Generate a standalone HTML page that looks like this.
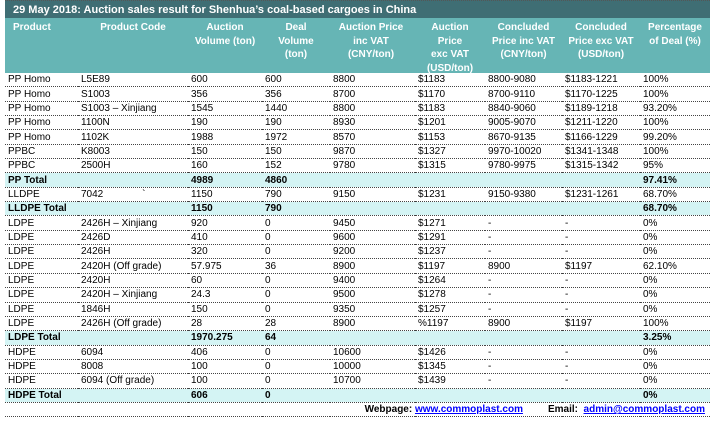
<!DOCTYPE html><html><head><style>
body{margin:0;background:#fff;width:715px;height:427px;overflow:hidden;font-family:"Liberation Sans",sans-serif;}
.t{position:absolute;left:5px;top:0;width:705px;height:18px;background:#3f6e74;color:#fff;font-weight:bold;font-size:11px;line-height:18px;padding-left:8px;box-sizing:border-box;border-top:1px dotted #555}
.h{position:absolute;left:5px;top:18px;width:705px;height:55px;background:#66b5b5;}
.hc{position:absolute;top:3px;color:#fff;font-weight:bold;font-size:10px;line-height:13.5px;text-align:center}
table{position:absolute;left:5px;top:73px;border-collapse:collapse;table-layout:fixed;width:705px;font-size:10px}
td{height:13.35px;padding:0 0 0 3px;border-bottom:1px dotted #444;white-space:nowrap;overflow:hidden;line-height:13px}
tr.s td{background:#d4f4f4;font-weight:bold}
tr.f td{border-bottom:1px dotted #444;font-weight:bold;text-align:right;padding-right:5px}
a{color:#00f;text-decoration:underline}
</style></head><body>
<div class="t">29 May 2018: Auction sales result for Shenhua’s coal-based cargoes in China</div>
<div class="h">
<div class="hc" style="left:8px;text-align:left">Product</div>
<div class="hc" style="left:73px;width:110px">Product Code</div>
<div class="hc" style="left:183px;width:74px">Auction<br>Volume (ton)</div>
<div class="hc" style="left:257px;width:68px">Deal<br>Volume<br>(ton)</div>
<div class="hc" style="left:322px;width:88px">Auction Price<br>inc VAT<br>(CNY/ton)</div>
<div class="hc" style="left:410px;width:70px">Auction<br>Price<br>exc VAT<br>(USD/ton)</div>
<div class="hc" style="left:480px;width:77px">Concluded<br>Price inc VAT<br>(CNY/ton)</div>
<div class="hc" style="left:557px;width:78px">Concluded<br>Price exc VAT<br>(USD/ton)</div>
<div class="hc" style="left:635px;width:70px">Percentage<br>of Deal (%)</div>
</div>
<table>
<colgroup><col style="width:73px"><col style="width:110px"><col style="width:74px"><col style="width:68px"><col style="width:85px"><col style="width:70px"><col style="width:77px"><col style="width:78px"><col style="width:70px"></colgroup>
<tr><td>PP Homo</td><td>L5E89</td><td>600</td><td>600</td><td>8800</td><td>$1183</td><td>8800-9080</td><td>$1183-1221</td><td>100%</td></tr>
<tr><td>PP Homo</td><td>S1003</td><td>356</td><td>356</td><td>8700</td><td>$1170</td><td>8700-9110</td><td>$1170-1225</td><td>100%</td></tr>
<tr><td>PP Homo</td><td>S1003 – Xinjiang</td><td>1545</td><td>1440</td><td>8800</td><td>$1183</td><td>8840-9060</td><td>$1189-1218</td><td>93.20%</td></tr>
<tr><td>PP Homo</td><td>1100N</td><td>190</td><td>190</td><td>8930</td><td>$1201</td><td>9005-9070</td><td>$1211-1220</td><td>100%</td></tr>
<tr><td>PP Homo</td><td>1102K</td><td>1988</td><td>1972</td><td>8570</td><td>$1153</td><td>8670-9135</td><td>$1166-1229</td><td>99.20%</td></tr>
<tr><td>PPBC</td><td>K8003</td><td>150</td><td>150</td><td>9870</td><td>$1327</td><td>9970-10020</td><td>$1341-1348</td><td>100%</td></tr>
<tr><td>PPBC</td><td>2500H</td><td>160</td><td>152</td><td>9780</td><td>$1315</td><td>9780-9975</td><td>$1315-1342</td><td>95%</td></tr>
<tr class="s"><td colspan="2">PP Total</td><td>4989</td><td>4860</td><td></td><td></td><td></td><td></td><td>97.41%</td></tr>
<tr><td>LLDPE</td><td>7042 &nbsp; &nbsp; &nbsp; &nbsp; &nbsp; &nbsp; &nbsp;`</td><td>1150</td><td>790</td><td>9150</td><td>$1231</td><td>9150-9380</td><td>$1231-1261</td><td>68.70%</td></tr>
<tr class="s"><td colspan="2">LLDPE Total</td><td>1150</td><td>790</td><td></td><td></td><td></td><td></td><td>68.70%</td></tr>
<tr><td>LDPE</td><td>2426H – Xinjiang</td><td>920</td><td>0</td><td>9450</td><td>$1271</td><td>-</td><td>-</td><td>0%</td></tr>
<tr><td>LDPE</td><td>2426D</td><td>410</td><td>0</td><td>9600</td><td>$1291</td><td>-</td><td>-</td><td>0%</td></tr>
<tr><td>LDPE</td><td>2426H</td><td>320</td><td>0</td><td>9200</td><td>$1237</td><td>-</td><td>-</td><td>0%</td></tr>
<tr><td>LDPE</td><td>2420H (Off grade)</td><td>57.975</td><td>36</td><td>8900</td><td>$1197</td><td>8900</td><td>$1197</td><td>62.10%</td></tr>
<tr><td>LDPE</td><td>2420H</td><td>60</td><td>0</td><td>9400</td><td>$1264</td><td>-</td><td>-</td><td>0%</td></tr>
<tr><td>LDPE</td><td>2420H – Xinjiang</td><td>24.3</td><td>0</td><td>9500</td><td>$1278</td><td>-</td><td>-</td><td>0%</td></tr>
<tr><td>LDPE</td><td>1846H</td><td>150</td><td>0</td><td>9350</td><td>$1257</td><td>-</td><td>-</td><td>0%</td></tr>
<tr><td>LDPE</td><td>2426H (Off grade)</td><td>28</td><td>28</td><td>8900</td><td>%1197</td><td>8900</td><td>$1197</td><td>100%</td></tr>
<tr class="s"><td colspan="2">LDPE Total</td><td>1970.275</td><td>64</td><td></td><td></td><td></td><td></td><td>3.25%</td></tr>
<tr><td>HDPE</td><td>6094</td><td>406</td><td>0</td><td>10600</td><td>$1426</td><td>-</td><td>-</td><td>0%</td></tr>
<tr><td>HDPE</td><td>8008</td><td>100</td><td>0</td><td>10000</td><td>$1345</td><td>-</td><td>-</td><td>0%</td></tr>
<tr><td>HDPE</td><td>6094 (Off grade)</td><td>100</td><td>0</td><td>10700</td><td>$1439</td><td>-</td><td>-</td><td>0%</td></tr>
<tr class="s"><td colspan="2">HDPE Total</td><td>606</td><td>0</td><td></td><td></td><td></td><td></td><td>0%</td></tr>
<tr class="f"><td colspan="9">Webpage: <a>www.commoplast.com</a> &nbsp; &nbsp; &nbsp; &nbsp; Email: &nbsp;<a>admin@commoplast.com</a></td></tr>
</table>
</body></html>
